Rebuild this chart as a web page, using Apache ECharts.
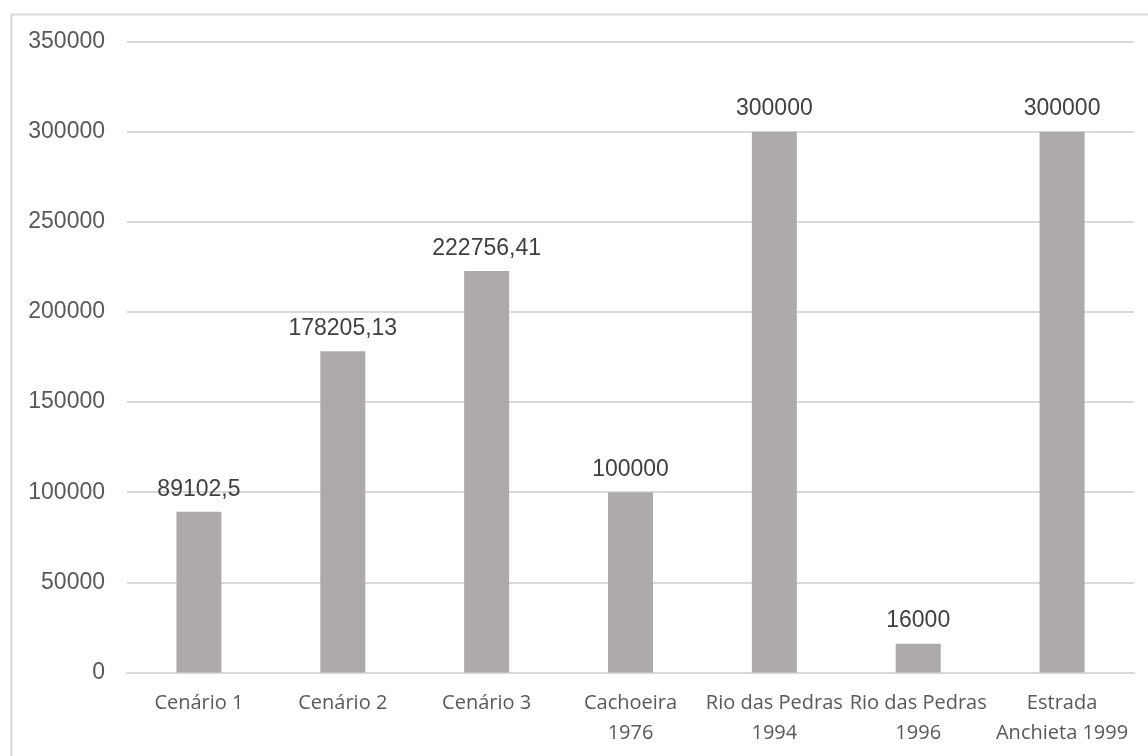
<!DOCTYPE html>
<html>
<head>
<meta charset="utf-8">
<script src="https://cdn.jsdelivr.net/npm/echarts@6/dist/echarts.min.js"></script>
<style>
  html, body { margin: 0; padding: 0; background: #ffffff; }
  #chart { width: 1148px; height: 756px; }
</style>
</head>
<body>
<div id="chart"></div>
<script>
// Categories (scenarios and historical events) and their values
const categories = [
  'Cenário 1',
  'Cenário 2',
  'Cenário 3',
  'Cachoeira\n1976',
  'Rio das Pedras\n1994',
  'Rio das Pedras\n1996',
  'Estrada\nAnchieta 1999'
];
const values = [89102.5, 178205.13, 222756.41, 100000, 300000, 16000, 300000];

// Value axis range
const yMin = 0;
const yMax = 350000;
const yStep = 50000;

const chart = echarts.init(document.getElementById('chart'), null, { renderer: 'canvas' });

// Brazilian decimal notation for the bar labels
const fmtValue = v => String(v).replace('.', ',');

chart.setOption({
  animation: false,
  backgroundColor: '#ffffff',
  graphic: [{
    type: 'rect',
    left: 9,
    top: 12,
    shape: { width: 1200, height: 800 },
    style: { fill: 'none', stroke: '#d9d9d9', lineWidth: 2 },
    silent: true,
    z: -1
  }],
  grid: {
    left: 127,
    right: 14,
    top: 41.5,
    bottom: 83.5,
    containLabel: false
  },
  xAxis: {
    type: 'category',
    data: categories,
    axisLine: { show: true, lineStyle: { color: '#d9d9d9', width: 2 } },
    axisTick: { show: false },
    axisLabel: {
      interval: 0,
      margin: 16,
      color: '#595959',
      fontFamily: 'Open Sans',
      fontSize: 20,
      lineHeight: 30
    }
  },
  yAxis: {
    type: 'value',
    min: yMin,
    max: yMax,
    interval: yStep,
    axisLine: { show: false },
    axisTick: { show: false },
    splitLine: { lineStyle: { color: '#d9d9d9', width: 2 } },
    axisLabel: {
      margin: 22,
      color: '#595959',
      fontFamily: 'Liberation Sans',
      fontSize: 23,
      formatter: v => String(v)
    }
  },
  series: [{
    type: 'bar',
    data: values,
    barWidth: 45,
    itemStyle: { color: '#aeaaaa' },
    label: {
      show: true,
      position: 'top',
      distance: 11,
      color: '#404040',
      fontFamily: 'Liberation Sans',
      fontSize: 23,
      formatter: p => fmtValue(p.value)
    }
  }]
});
</script>
</body>
</html>
